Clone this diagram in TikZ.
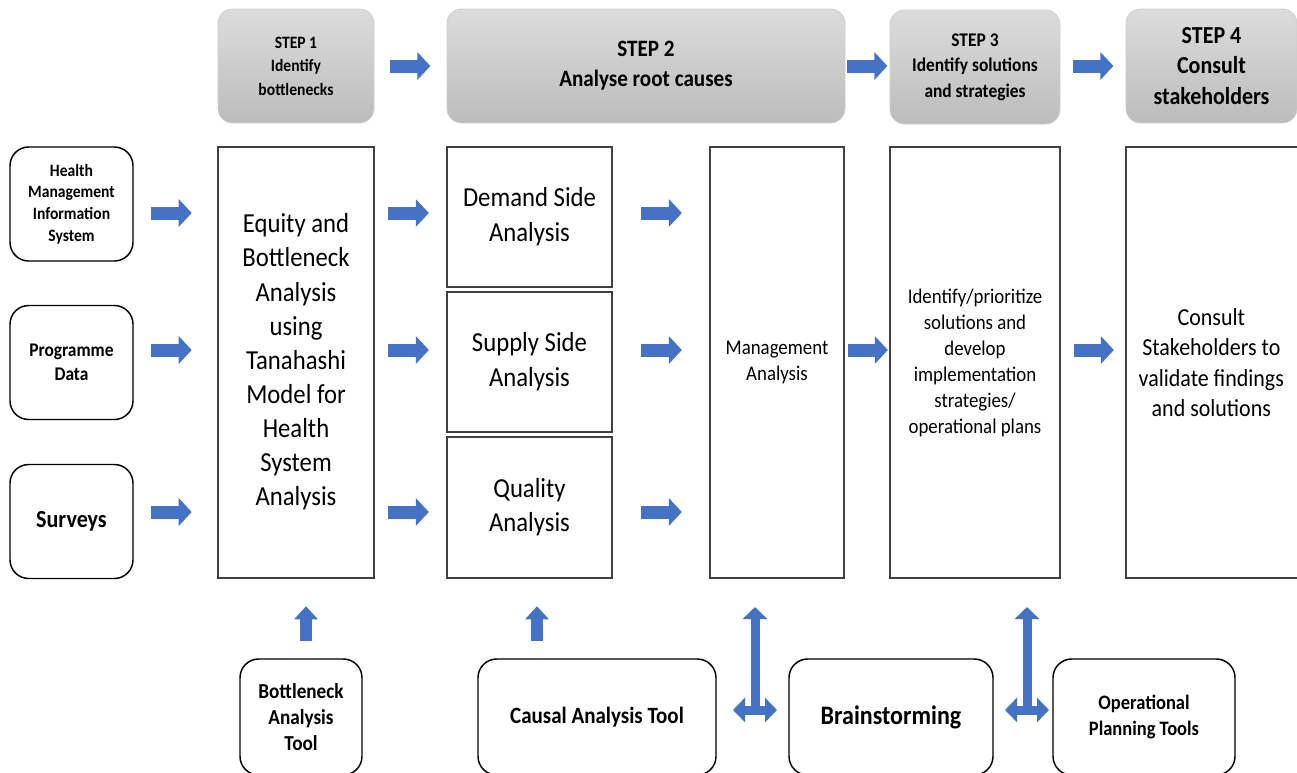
\documentclass[tikz,border=0pt]{standalone}
\usepackage{fontspec}
\setmainfont{Carlito}[FakeStretch=0.9]
\usetikzlibrary{arrows.meta,calc}
\definecolor{hdrtop}{RGB}{220,220,220}
\definecolor{hdrbot}{RGB}{188,188,188}
\definecolor{hdrline}{RGB}{205,205,205}
\definecolor{arrblue}{RGB}{68,114,196}
\definecolor{boxline}{RGB}{64,64,64}
\begin{document}
\begin{tikzpicture}[x=0.75pt,y=-0.75pt,
  stepbox/.style={rounded corners=11pt, top color=hdrtop, bottom color=hdrbot, draw=hdrline, line width=0.6pt, align=center, inner sep=0pt},
  srcbox/.style={rounded corners=14pt, draw=black, line width=1.1pt, align=center, inner sep=0pt, fill=white},
  plainbox/.style={draw=boxline, line width=1.3pt, align=center, inner sep=0pt, fill=white},
  barrow/.style={draw=arrblue, line width=9.75pt, -{Triangle[length=9.75pt,width=20.25pt]}},
  uparrow/.style={draw=arrblue, line width=9pt, -{Triangle[length=9.75pt,width=17.25pt]}},
  dblarrow/.style={draw=arrblue, line width=6.75pt, >={Triangle[length=9pt,width=18pt]}},
]
\useasboundingbox (0,0) rectangle (1297,772);
\clip (0,0) rectangle (1297,772);

% headers
\node[stepbox, minimum width=117pt, minimum height=85.5pt, font=\bfseries\fontsize{13}{17.6}\selectfont] (s1) at (296,66) {STEP 1\\Identify\\bottlenecks};
\node[stepbox, minimum width=298.5pt, minimum height=85.5pt, font=\bfseries\fontsize{17.6}{22.5}\selectfont] (s2) at (646,66) {STEP 2\\Analyse root causes};
\node[stepbox, minimum width=127.5pt, minimum height=85.5pt, font=\bfseries\fontsize{14.5}{19}\selectfont] (s3) at (975,67) {STEP 3\\Identify solutions\\and strategies};
\node[stepbox, minimum width=128.25pt, minimum height=85.5pt, font=\bfseries\fontsize{18.3}{23}\selectfont] (s4) at (1211.5,66) {STEP 4\\Consult\\stakeholders};

% sources
\node[srcbox, minimum width=92.25pt, minimum height=85.5pt, font=\bfseries\fontsize{13}{16.3}\selectfont] (hmis) at (71.5,204) {Health\\Management\\Information\\System};
\node[srcbox, minimum width=92.25pt, minimum height=85.5pt, font=\bfseries\fontsize{14.5}{18}\selectfont] (prog) at (71.5,362.5) {Programme\\Data};
\node[srcbox, minimum width=92.25pt, minimum height=85.5pt, font=\bfseries\fontsize{18.4}{22}\selectfont] (surv) at (71.5,521.5) {Surveys};

% main boxes
\node[plainbox, minimum width=117pt, minimum height=323.25pt, font=\fontsize{20.6}{25.6}\selectfont] (eq) at (296,362.5) {\raisebox{-2.25pt}{\begin{tabular}{@{}c@{}}Equity and\\Bottleneck\\Analysis\\using\\Tanahashi\\Model for\\Health\\System\\Analysis\end{tabular}}};
\node[plainbox, minimum width=123.75pt, minimum height=105pt, font=\fontsize{20.6}{26}\selectfont] (dem) at (529.5,217) {\raisebox{-2.5pt}{\begin{tabular}{@{}c@{}}Demand Side\\Analysis\end{tabular}}};
\node[plainbox, minimum width=123.75pt, minimum height=105pt, font=\fontsize{20.6}{26}\selectfont] (sup) at (529.5,362) {\raisebox{-2.5pt}{\begin{tabular}{@{}c@{}}Supply Side\\Analysis\end{tabular}}};
\node[plainbox, minimum width=123.75pt, minimum height=105.75pt, font=\fontsize{20.6}{26}\selectfont] (qual) at (529.5,507.5) {\raisebox{-2.5pt}{\begin{tabular}{@{}c@{}}Quality\\Analysis\end{tabular}}};
\node[plainbox, minimum width=100.5pt, minimum height=323.25pt, font=\fontsize{15.7}{19.5}\selectfont] (mgmt) at (777,362.5) {\raisebox{-2pt}{\begin{tabular}{@{}c@{}}Management\\Analysis\end{tabular}}};
\node[plainbox, minimum width=127.5pt, minimum height=323.25pt, font=\fontsize{15.7}{19.5}\selectfont] (sol) at (975,362.5) {Identify/prioritize\\solutions and\\develop\\implementation\\strategies/\\operational plans};
\node[plainbox, minimum width=138pt, minimum height=323.25pt,
  label={[align=center, xshift=-5pt, font=\fontsize{18.3}{22.7}\selectfont]center:Consult\\Stakeholders to\\validate findings\\and solutions}] (cons) at (1218,362.5) {};

% tools
\node[srcbox, minimum width=91.5pt, minimum height=87pt, font=\bfseries\fontsize{16}{19.5}\selectfont] (bt) at (301,717) {Bottleneck\\Analysis\\Tool};
\node[srcbox, minimum width=178.5pt, minimum height=87pt, font=\bfseries\fontsize{17.5}{21}\selectfont] (ca) at (597,717) {Causal Analysis Tool};
\node[srcbox, minimum width=153pt, minimum height=87pt, font=\bfseries\fontsize{20}{24}\selectfont] (bs) at (891,717) {Brainstorming};
\node[srcbox, minimum width=136.5pt, minimum height=87pt, font=\bfseries\fontsize{15.4}{19.5}\selectfont] (op) at (1144,717) {Operational\\Planning Tools};

% header arrows
\draw[barrow] ($(s1.east)+(16,0)$) -- ++(40,0);
\draw[barrow] ($(s2.east)+(2,0)$) -- ++(40,0);
\draw[barrow] ($(s3.east)+(13,-1)$) -- ++(40,0);

% row arrows
\draw[barrow] ($(hmis.east)+(17,9)$) -- ++(41,0);
\draw[barrow] ($(prog.east)+(17,-12.5)$) -- ++(41,0);
\draw[barrow] ($(surv.east)+(17,-9.5)$) -- ++(41,0);
\draw[barrow] ($(eq.east)+(13,-149.5)$) -- ++(41,0);
\draw[barrow] ($(eq.east)+(13,-12.5)$) -- ++(41,0);
\draw[barrow] ($(eq.east)+(13,149.5)$) -- ++(41,0);
\draw[barrow] ($(dem.east)+(28,-4)$) -- ++(41,0);
\draw[barrow] ($(sup.east)+(28,-12)$) -- ++(41,0);
\draw[barrow] ($(qual.east)+(28,4.5)$) -- ++(41,0);
\draw[barrow] ($(mgmt.east)+(3,-12.5)$) -- ++(40,0);
\draw[barrow] ($(sol.east)+(13,-12.5)$) -- ++(40,0);

% up arrows
\draw[uparrow] ($(bt.north)+(5,-17)$) -- ++(0,-35);
\draw[uparrow] ($(ca.north)+(-60,-17)$) -- ++(0,-35);

% double arrows
\coordinate (j1) at ($(ca.east)!0.5!(bs.west)+(2.5,-7)$);
\coordinate (j2) at ($(bs.east)!0.5!(op.west)+(4,-7)$);
\draw[dblarrow,->] ($(j1)+(0,3.4)$) -- ($(j1)+(0,-103)$);
\draw[dblarrow,<->] ($(j1)+(-22,0)$) -- ($(j1)+(22,0)$);
\draw[dblarrow,->] ($(j2)+(0,3.4)$) -- ($(j2)+(0,-103)$);
\draw[dblarrow,<->] ($(j2)+(-22,0)$) -- ($(j2)+(22,0)$);
\end{tikzpicture}
\end{document}
